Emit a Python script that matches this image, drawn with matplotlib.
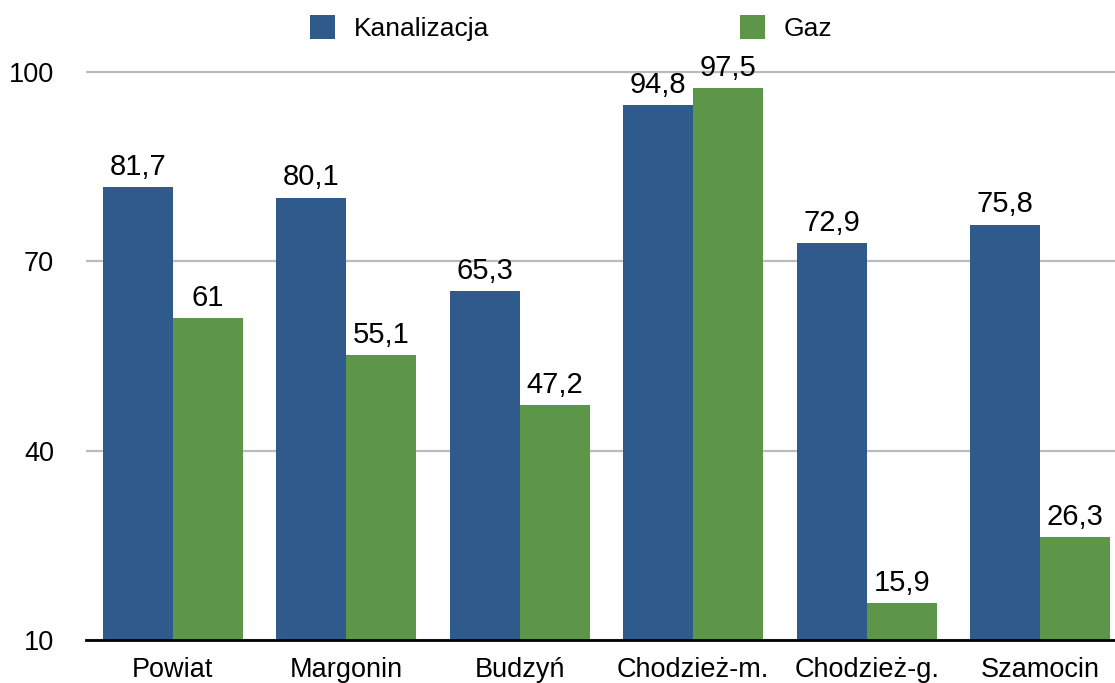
import numpy as np
import matplotlib
matplotlib.use("Agg")
import matplotlib.pyplot as plt

plt.rcParams['font.family'] = ['Liberation Sans', 'DejaVu Sans']

# dane
gminy = ["Powiat", "Margonin", "Budzyń", "Chodzież-m.", "Chodzież-g.", "Szamocin"]
kanalizacja = [81.7, 80.1, 65.3, 94.8, 72.9, 75.8]
gaz = [61, 55.1, 47.2, 97.5, 15.9, 26.3]
y_ticks = [10, 40, 70, 100]

kolor_kan = "#2e5a8c"
kolor_gaz = "#5d9649"


def fmt(v):
    s = f"{v:g}"
    return s.replace(".", ",")


fig = plt.figure(figsize=(11.15, 6.83), dpi=100)
ax = fig.add_axes([86 / 1115, 43 / 683, 1029 / 1115, 640 / 683])

x = np.arange(len(gminy))
w = 70 / 173.5
b1 = ax.bar(x - w / 2, kanalizacja, w, bottom=0, color=kolor_kan, label="Kanalizacja", zorder=3)
b2 = ax.bar(x + w / 2, gaz, w, bottom=0, color=kolor_gaz, label="Gaz", zorder=3)

for bars, vals in ((b1, kanalizacja), (b2, gaz)):
    for r, v in zip(bars, vals):
        ax.annotate(fmt(v), (r.get_x() + r.get_width() / 2, v), xytext=(0, 4.5),
                    textcoords="offset points", ha="center", va="bottom",
                    fontsize=21, zorder=4)

ax.set_xlim(-0.5, 1029 / 173.5 - 0.5)
ax.set_ylim(10, 10 + 640 / (568 / 90))
ax.set_yticks(y_ticks)
ax.set_xticks(x)
ax.set_xticklabels(gminy)
ax.tick_params(axis="both", length=0, labelsize=19.5)
ax.tick_params(axis="x", pad=12)
ax.tick_params(axis="y", pad=23)
ax.grid(axis="y", color="#bbbbbb", linewidth=1.6, zorder=1)

for s in ("top", "right", "left"):
    ax.spines[s].set_visible(False)
ax.spines["bottom"].set_linewidth(2)
ax.spines["bottom"].set_zorder(5)

fig.legend(handles=[b1, b2], loc="center", bbox_to_anchor=(571 / 1115, 1 - 28 / 683), ncol=2,
           frameon=False, fontsize=19, handlelength=0.95, handleheight=1.0,
           handletextpad=0.72, columnspacing=9.5, borderpad=0)

fig.savefig("out.png", dpi=100)
